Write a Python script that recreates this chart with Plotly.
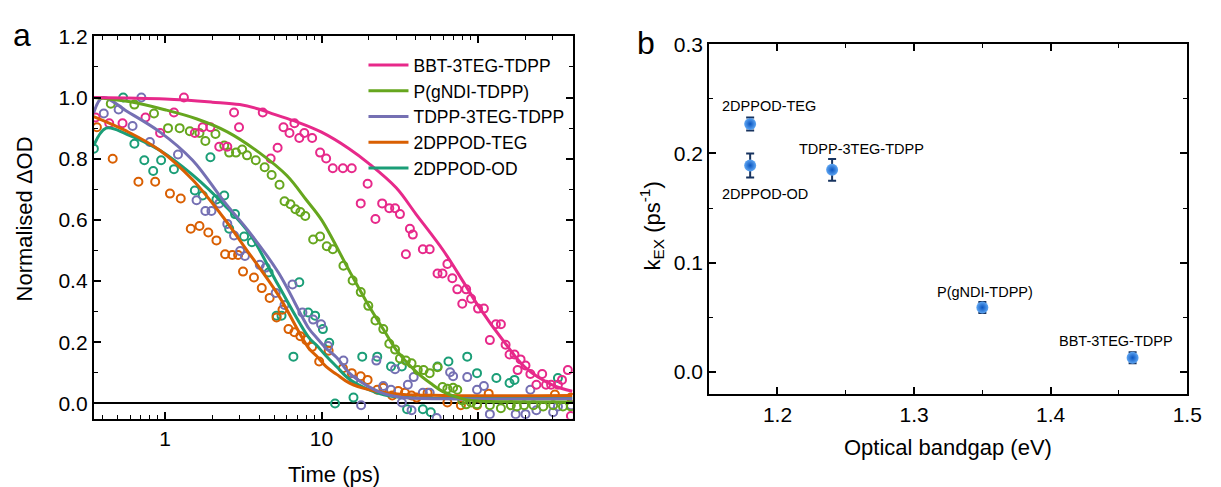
import plotly.graph_objects as go

# ---------------- Panel a: normalised transient absorption decays ----------------
series_names = ["BBT-3TEG-TDPP", "P(gNDI-TDPP)", "TDPP-3TEG-TDPP", "2DPPOD-TEG", "2DPPOD-OD"]
series_colors = ["#E7298A", "#66A61E", "#7570B3", "#D95F02", "#1B9E77"]

bbt_t = [0.36, 0.44, 0.535, 0.75, 0.93, 1.14, 1.32, 1.55, 1.74, 1.95, 2.22, 2.50, 2.76, 2.97, 4.21,
         4.73, 5.24, 5.71, 6.24, 6.71, 7.21, 7.76, 8.71, 9.79, 10.7, 11.8, 13.7, 15.6, 17.8, 19.7,
         22.1, 24.4, 27.1, 29.5, 31.7, 34.6, 36.7, 38.3, 44.4, 49.1, 55.1, 59.3, 63.7, 68.5, 73.7,
         79.3, 84.0, 90.3, 100, 109, 119, 130, 140, 150, 159, 171, 179, 187, 201, 216,
         236, 257, 272, 293, 324, 344, 375, 392]
bbt_y = [0.935, 0.916, 0.916, 0.935, 0.884, 0.951, 1.0, 0.884, 0.903, 0.903, 0.839, 0.839, 0.951, 0.903, 0.951,
         0.801, 0.836, 0.903, 0.884, 0.916, 0.868, 0.884, 0.868, 0.820, 0.801, 0.769, 0.769, 0.769, 0.654, 0.718,
         0.603, 0.654, 0.638, 0.638, 0.619, 0.488, 0.571, 0.552, 0.504, 0.504, 0.425, 0.425, 0.456, 0.409, 0.373,
         0.326, 0.373, 0.342, 0.310, 0.310, 0.207, 0.259, 0.259, 0.192, 0.160, 0.160, 0.109, 0.144, 0.124, 0.096,
         0.061, 0.096, 0.061, 0.061, 0.061, 0.077, 0.109, -0.041]

gndi_t = [0.45, 0.637, 0.85, 1.045, 1.24, 1.44, 1.66, 1.81, 2.10, 2.39, 2.57, 2.84, 3.11, 3.34, 3.80,
          4.33, 4.80, 5.39, 5.80, 6.33, 6.81, 7.32, 7.87, 8.84, 9.79, 10.8, 11.8, 13.8, 15.8, 17.8,
          19.9, 22.1, 24.8, 27.1, 29.5, 31.7, 34.6, 37.6, 41.2, 44.9, 49.1, 55.1, 59.3, 63.7, 69.3,
          73.7, 79.3, 84, 90.3, 98.5, 119, 140, 162, 177, 197, 226, 261, 302, 349, 392]
gndi_y = [0.98, 0.977, 0.948, 0.90, 0.90, 0.89, 0.884, 0.858, 0.881, 0.843, 0.82, 0.82, 0.83, 0.811, 0.795,
          0.772, 0.747, 0.715, 0.661, 0.651, 0.635, 0.626, 0.613, 0.536, 0.546, 0.514, 0.504, 0.45, 0.402, 0.364,
          0.319, 0.271, 0.243, 0.195, 0.176, 0.147, 0.140, 0.131, 0.109, 0.109, 0.099, 0.118, 0.054, 0.048, 0.051,
          0.045, 0.01, -0.003, 0.003, -0.003, -0.006, -0.016, -0.006, -0.01, -0.006, -0.006, -0.01, -0.006, -0.01, -0.01]

tdpp_t = [0.406, 0.505, 0.62, 0.706, 0.80, 1.21, 1.59, 1.81, 1.98, 2.22, 2.50, 2.76, 3.02, 3.24, 4.03,
          4.40, 5.09, 5.80, 6.52, 7.55, 8.84, 9.93, 11.0, 13.8, 16.0, 17.9, 22.4, 24.8, 27.8, 29.5,
          32.6, 35.6, 37.6, 38.8, 44.4, 49.1, 54.4, 66.3, 69.3, 85.3, 98.5, 109, 119, 174, 201,
          216, 236, 302, 324, 392]
tdpp_y = [0.948, 0.961, 0.907, 1.0, 0.855, 0.814, 0.664, 0.629, 0.629, 0.654, 0.587, 0.549, 0.498, 0.482, 0.453,
          0.444, 0.361, 0.322, 0.389, 0.297, 0.274, 0.259, 0.188, 0.14, 0.077, -0.006, 0.14, 0.057, 0.045, 0.112,
          0.003, 0.061, -0.022, 0.086, 0.035, 0.035, -0.048, 0.102, 0.089, 0.086, 0.045, 0.057, -0.035, -0.035, -0.035,
          0.045, -0.022, -0.029, -0.01, -0.006]

teg_t = [0.367, 0.463, 0.676, 0.865, 1.075, 1.26, 1.46, 1.66, 1.89, 2.13, 2.42, 2.69, 2.93, 3.15, 3.70,
         4.15, 4.66, 5.16, 5.63, 6.15, 6.71, 7.32, 7.98, 8.71, 9.66, 11.1, 13.7, 15.6, 17.8, 19.7,
         22.7, 24.8, 28.3, 30.9, 34.1, 37.6, 40.5, 47.6, 63.7, 77.7, 98.5, 117, 310, 392]
teg_y = [0.903, 0.80, 0.725, 0.725, 0.686, 0.67, 0.571, 0.58, 0.559, 0.533, 0.488, 0.485, 0.485, 0.431, 0.412,
         0.377, 0.345, 0.281, 0.306, 0.243, 0.233, 0.22, 0.207, 0.185, 0.137, 0.172, 0.115, 0.099, 0.089, 0.077,
         0.045, 0.051, 0.026, 0.041, 0.035, 0.026, 0.019, 0.035, 0.003, -0.006, -0.006, 0.032, 0.029, 0.019]

od_t = [0.351, 0.54, 0.637, 0.737, 0.84, 0.944, 1.14, 1.55, 1.74, 1.95, 2.13, 2.39, 2.57, 2.80, 3.2,
        3.59, 4.59, 5.16, 5.55, 6.61, 7.21, 8.22, 9.1, 10.2, 11.2, 12.2, 16.0, 18.2, 22.7, 27.8,
        32.6, 35.2, 44.4, 49.9, 55.1, 64.7, 85.3, 98.5, 131, 159, 171, 324]
od_y = [0.833, 1.0, 0.849, 0.795, 0.76, 0.795, 0.766, 0.696, 0.68, 0.805, 0.667, 0.68, 0.571, 0.619, 0.546,
        0.527, 0.428, 0.287, 0.287, 0.153, 0.396, 0.297, 0.287, 0.243, 0.198, 0.0, 0.019, 0.153, 0.153, 0.121,
        0.121, -0.019, -0.019, -0.029, 0.121, 0.137, 0.153, 0.099, 0.083, 0.067, 0.077, 0.083]

# fitted decay curves
bbt_fit_t = [0.35, 1, 2, 3, 4, 5, 7, 10, 15, 20, 30, 40, 60, 80, 100, 150, 200, 300, 400]
bbt_fit_y = [1.0, 0.995, 0.985, 0.977, 0.962, 0.945, 0.92, 0.887, 0.833, 0.785, 0.705, 0.62, 0.50, 0.40,
             0.32, 0.195, 0.118, 0.06, 0.04]
gndi_fit_t = [0.35, 0.6, 1.0, 1.6, 2.5, 4, 6, 8, 10, 15, 20, 25, 30, 40, 50, 60, 80, 100, 200, 400]
gndi_fit_y = [1.0, 0.986, 0.96, 0.93, 0.888, 0.82, 0.745, 0.665, 0.60, 0.435, 0.32, 0.24, 0.175, 0.105,
              0.065, 0.038, 0.015, 0.008, 0.005, 0.005]
tdpp_fit_t = [0.35, 0.40, 0.57, 0.93, 1.5, 2.4, 3.4, 5.3, 8.3, 9.3, 10.7, 12.5, 15, 20, 25, 32, 60, 400]
tdpp_fit_y = [0.95, 1.0, 0.955, 0.887, 0.795, 0.658, 0.565, 0.428, 0.245, 0.215, 0.18, 0.15, 0.10, 0.055,
              0.032, 0.02, 0.015, 0.015]
teg_fit_t = [0.35, 0.57, 0.93, 1.5, 2.4, 3.3, 5.3, 8.3, 9.3, 10.7, 12.5, 15, 20, 32, 60, 400]
teg_fit_y = [0.938, 0.89, 0.827, 0.731, 0.603, 0.504, 0.354, 0.18, 0.155, 0.12, 0.095, 0.067, 0.045, 0.03,
             0.026, 0.026]
od_fit_t = [0.35, 0.42, 0.57, 0.93, 1.5, 2.4, 3.5, 5.3, 8.3, 9.3, 10.7, 12.5, 15, 20, 25, 32, 60, 400]
od_fit_y = [0.843, 0.90, 0.88, 0.827, 0.747, 0.648, 0.552, 0.386, 0.215, 0.19, 0.155, 0.12, 0.08, 0.045,
            0.028, 0.02, 0.017, 0.017]

# ---------------- Panel b: exciton decay rate vs optical bandgap ----------------
b_labels = ["2DPPOD-TEG", "2DPPOD-OD", "TDPP-3TEG-TDPP", "P(gNDI-TDPP)", "BBT-3TEG-TDPP"]
b_gap = [1.18, 1.18, 1.24, 1.35, 1.46]
b_kex = [0.227, 0.189, 0.185, 0.059, 0.013]
b_err = [0.006, 0.011, 0.010, 0.005, 0.005]
# label anchor points (data units) for the sample names
b_label_x = [1.194, 1.1906, 1.2614, 1.3516, 1.4477]
b_label_y = [0.243, 0.1625, 0.2045, 0.0732, 0.0286]

FONT = "Liberation Sans, Arial, sans-serif"
W, H = 1221, 487

fig = go.Figure()

raw = [(bbt_t, bbt_y), (gndi_t, gndi_y), (tdpp_t, tdpp_y), (teg_t, teg_y), (od_t, od_y)]
fits = [(bbt_fit_t, bbt_fit_y), (gndi_fit_t, gndi_fit_y), (tdpp_fit_t, tdpp_fit_y),
        (teg_fit_t, teg_fit_y), (od_fit_t, od_fit_y)]

# open-circle measured points (drawn below the fits)
for (tx, ty), name, col in reversed(list(zip(raw, series_names, series_colors))):
    fig.add_trace(go.Scatter(
        x=tx, y=ty, mode="markers", name=name, showlegend=False,
        marker=dict(symbol="circle-open", size=8, color=col, line=dict(width=2, color=col)),
        xaxis="x", yaxis="y"))

# fitted curves
for (tx, ty), name, col in reversed(list(zip(fits, series_names, series_colors))):
    fig.add_trace(go.Scatter(
        x=tx, y=ty, mode="lines", name=name, showlegend=True,
        line=dict(color=col, width=3, shape="spline", smoothing=1.0),
        xaxis="x", yaxis="y"))

fig.add_trace(go.Scatter(
    x=b_gap, y=b_kex, mode="markers", showlegend=False,
    marker=dict(size=12, color="#5fa6f2",
                gradient=dict(type="radial", color="#0a55c0"),
                line=dict(width=0)),
    error_y=dict(type="data", array=b_err, visible=True, color="#17335f", thickness=2, width=4),
    xaxis="x2", yaxis="y2"))

axis_common = dict(
    showline=True, linecolor="black", linewidth=2, mirror="ticks",
    ticks="inside", ticklen=7, tickwidth=1.5, tickcolor="black",
    showgrid=False, zeroline=False,
    tickfont=dict(family=FONT, size=21, color="black"),
)
minor_common = dict(ticks="inside", ticklen=4, tickwidth=1.2, tickcolor="black")

fig.update_layout(
    width=W, height=H, autosize=False,
    margin=dict(l=0, r=0, t=0, b=0, pad=0),
    paper_bgcolor="white", plot_bgcolor="white",
    font=dict(family=FONT, color="black"),
    xaxis=dict(axis_common, type="log", domain=[95 / W, 580 / W],
               range=[-0.455, 2.606], tickvals=[1, 10, 100], ticktext=["1", "10", "100"],
               minor=dict(minor_common, dtick="D1"), anchor="y"),
    yaxis=dict(axis_common, domain=[1 - 417 / H, 1 - 25 / H], range=[-0.05, 1.2],
               dtick=0.2, tick0=0, tickformat=".1f", minor=dict(minor_common, dtick=0.1),
               zeroline=True, zerolinecolor="black", zerolinewidth=1.5, anchor="x"),
    xaxis2=dict(axis_common, domain=[718 / W, 1202 / W], range=[1.15, 1.5],
                dtick=0.1, tick0=1.2, tickformat=".1f", minor=dict(minor_common, dtick=0.05),
                anchor="y2"),
    yaxis2=dict(axis_common, domain=[1 - 392 / H, 1 - 33 / H], range=[-0.0205, 0.3],
                dtick=0.1, tick0=0, tickformat=".1f", minor=dict(minor_common, dtick=0.05),
                anchor="x2"),
    legend=dict(x=368 / W, y=1 - 36 / H, xanchor="left", yanchor="top",
                bgcolor="rgba(0,0,0,0)", borderwidth=0,
                font=dict(family=FONT, size=17.5, color="black"),
                tracegroupgap=0, itemwidth=40, traceorder="reversed"),
)

ann = []
for txt, px, py in [("a", 22, 24), ("b", 654, 32)]:
    ann.append(dict(text=txt, x=px / W, y=1 - py / H, xref="paper", yref="paper",
                    showarrow=False, font=dict(family=FONT, size=32, color="black"),
                    xanchor="center", yanchor="middle"))

# axis titles
ann.append(dict(text="Time (ps)", x=338 / W, y=1 - 474 / H, xref="paper", yref="paper",
                showarrow=False, font=dict(family=FONT, size=22), xanchor="center", yanchor="middle"))
ann.append(dict(text="Normalised \u0394OD", x=25 / W, y=1 - 212 / H, xref="paper", yref="paper",
                showarrow=False, textangle=-90, font=dict(family=FONT, size=22),
                xanchor="center", yanchor="middle"))
ann.append(dict(text="Optical bandgap (eV)", x=960 / W, y=1 - 447 / H, xref="paper", yref="paper",
                showarrow=False, font=dict(family=FONT, size=22), xanchor="center", yanchor="middle"))
ann.append(dict(text="k<sub>EX</sub> (ps<sup>-1</sup>)", x=660 / W, y=1 - 219 / H,
                xref="paper", yref="paper", showarrow=False, textangle=-90,
                font=dict(family=FONT, size=22), xanchor="center", yanchor="middle"))

# sample names in panel b
for lab, lx, ly in zip(b_labels, b_label_x, b_label_y):
    ann.append(dict(text=lab, x=lx, y=ly, xref="x2", yref="y2", showarrow=False,
                    font=dict(family=FONT, size=14.5, color="black"),
                    xanchor="center", yanchor="middle"))

fig.update_layout(annotations=ann)

# keep the page itself free of default body margins / scrollbars
fig.write_html(
    "out.html",
    config={"responsive": False, "displayModeBar": False},
    post_script="document.body.style.margin='0';document.body.style.overflow='hidden';",
)
